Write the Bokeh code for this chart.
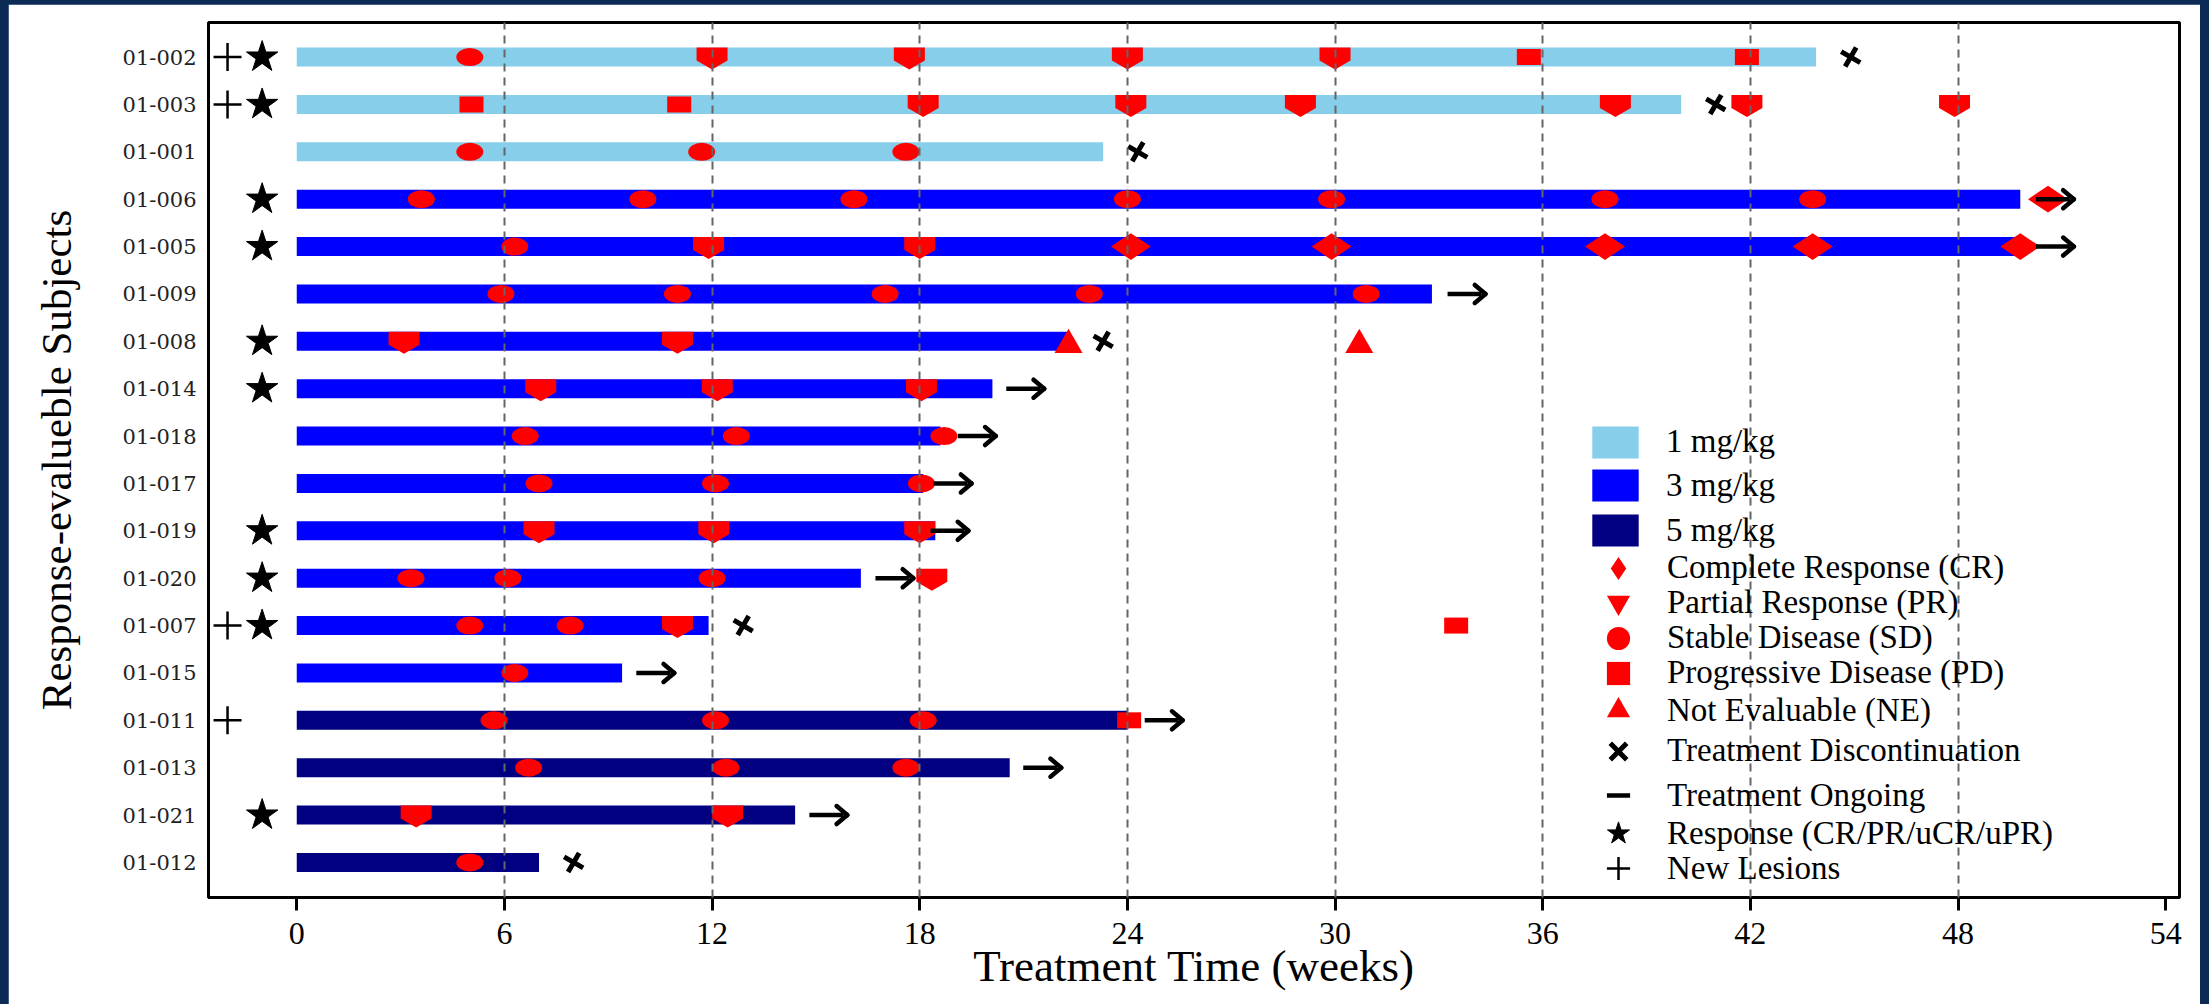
import numpy as np
from bokeh.plotting import figure
from bokeh.models import (ColumnDataSource, Range1d, FixedTicker, Legend, LegendItem,
                          GlobalInlineStyleSheet)
from bokeh.embed import file_html
from bokeh.resources import INLINE

# ---------------- data ----------------
subjects = ["01-002", "01-003", "01-001", "01-006", "01-005", "01-009", "01-008",
            "01-014", "01-018", "01-017", "01-019", "01-020", "01-007", "01-015",
            "01-011", "01-013", "01-021", "01-012"]
dose_mgkg = [1, 1, 1, 3, 3, 3, 3, 3, 3, 3, 3, 3, 3, 3, 5, 5, 5, 5]
treat_end_week = [43.9, 40.0, 23.3, 49.8, 49.8, 32.8, 22.3, 20.1, 18.6, 18.1,
                  18.45, 16.3, 11.9, 9.4, 24.0, 20.6, 14.4, 7.0]

response_subjects = ["01-002", "01-003", "01-006", "01-005", "01-008", "01-014",
                     "01-019", "01-020", "01-007", "01-021"]
new_lesion_subjects = ["01-002", "01-003", "01-007", "01-011"]

disc_subj = ["01-002", "01-003", "01-001", "01-008", "01-007", "01-012"]
disc_week = [44.9, 41.0, 24.3, 23.3, 12.9, 8.0]

ongoing_subj = ["01-006", "01-005", "01-009", "01-014", "01-018", "01-017",
                "01-019", "01-020", "01-015", "01-011", "01-013", "01-021"]
ongoing_week = [50.8, 50.8, 33.8, 21.05, 19.65, 18.95, 18.86, 17.27, 10.36,
                25.05, 21.54, 15.36]

cr_subj = ["01-006", "01-005", "01-005", "01-005", "01-005", "01-005"]
cr_week = [50.6, 24.1, 29.9, 37.8, 43.8, 49.8]

pr_subj = ["01-002", "01-002", "01-002", "01-002",
           "01-003", "01-003", "01-003", "01-003", "01-003", "01-003",
           "01-005", "01-005", "01-008", "01-008",
           "01-014", "01-014", "01-014", "01-019", "01-019", "01-019",
           "01-020", "01-007", "01-021", "01-021"]
pr_week = [12.0, 17.7, 24.0, 30.0,
           18.1, 24.1, 29.0, 38.1, 41.9, 47.9,
           11.9, 18.0, 3.1, 11.0,
           7.05, 12.15, 18.05, 7.0, 12.05, 18.0,
           18.35, 11.0, 3.45, 12.45]

sd_subj = ["01-002", "01-001", "01-001", "01-001",
           "01-006", "01-006", "01-006", "01-006", "01-006", "01-006", "01-006",
           "01-005", "01-009", "01-009", "01-009", "01-009", "01-009",
           "01-018", "01-018", "01-018", "01-017", "01-017", "01-017",
           "01-020", "01-020", "01-020", "01-007", "01-007", "01-015",
           "01-011", "01-011", "01-011", "01-013", "01-013", "01-013", "01-012"]
sd_week = [5.0, 5.0, 11.7, 17.6,
           3.6, 10.0, 16.1, 24.0, 29.9, 37.8, 43.8,
           6.3, 5.9, 11.0, 17.0, 22.9, 30.9,
           6.6, 12.7, 18.7, 7.0, 12.1, 18.05,
           3.3, 6.1, 12.0, 5.0, 7.9, 6.3,
           5.7, 12.1, 18.1, 6.7, 12.4, 17.6, 5.0]

pd_subj = ["01-002", "01-002", "01-003", "01-003", "01-007", "01-011"]
pd_week = [35.6, 41.9, 5.05, 11.05, 33.5, 24.05]

ne_subj = ["01-008", "01-008"]
ne_week = [22.3, 30.7]

x_ticks = [0, 6, 12, 18, 24, 30, 36, 42, 48, 54]
grid_weeks = [6, 12, 18, 24, 30, 36, 42, 48]
dose_levels = [1, 3, 5]
dose_labels = ["1 mg/kg", "3 mg/kg", "5 mg/kg"]
dose_colors = ["#87CEEB", "#0000FF", "#000080"]

# ---------------- layout constants ----------------
X0, X1 = -2.55, 54.4
Y0, Y1 = 0.26, 18.73
FW, FH = 1971, 875
KX = FW / (X1 - X0)   # px per week
KY = FH / (Y1 - Y0)   # px per row
STAR_X, PLUS_X = -1.0, -2.0
RED = "#FF0000"

n = len(subjects)
row_of = {s: n - i for i, s in enumerate(subjects)}


def rows(lst):
    return [row_of[s] for s in lst]


p = figure(width=2192, height=1000, frame_width=FW, frame_height=FH,
           x_range=Range1d(X0, X1), y_range=Range1d(Y0, Y1),
           output_backend="svg", toolbar_location=None,
           min_border_left=200, min_border_right=21, min_border_top=18,
           min_border_bottom=107, background_fill_color="white",
           border_fill_color="white")
p.stylesheets = [GlobalInlineStyleSheet(
    css="html, body { background-color: #0b2a55; overflow: hidden; } "
        "body { padding: 4px 0 0 8px !important; }")]

# bars
bar_r = {}
for d, col in zip(dose_levels, dose_colors):
    idx = [i for i in range(n) if dose_mgkg[i] == d]
    src = ColumnDataSource(dict(y=[row_of[subjects[i]] for i in idx],
                                right=[treat_end_week[i] for i in idx]))
    bar_r[d] = p.hbar(y="y", left=0, right="right", height=0.4, source=src,
                      fill_color=col, line_color=None)

# stable disease: ellipse + small circle inside it (used by the legend)
sd_src = ColumnDataSource(dict(x=sd_week, y=rows(sd_subj)))
p.ellipse(x="x", y="y", width=27, height=18, width_units="screen", height_units="screen",
          fill_color=RED, line_color=None, source=sd_src)
sd_leg = p.scatter(x="x", y="y", marker="circle", size=15, fill_color=RED,
                   line_color=None, source=sd_src)

# partial response: shield shape + small triangle inside it (used by the legend)
hw, top, sb, pt = 15.5 / KX, 9.5 / KY, 3.5 / KY, 12.5 / KY
pr_y = rows(pr_subj)
pr_src = ColumnDataSource(dict(
    xs=[[x - hw, x + hw, x + hw, x, x - hw] for x in pr_week],
    ys=[[y + top, y + top, y - sb, y - pt, y - sb] for y in pr_y]))
p.patches(xs="xs", ys="ys", fill_color=RED, line_color=None, source=pr_src)
pr_leg = p.scatter(x=pr_week, y=pr_y, marker="inverted_triangle", size=16,
                   fill_color=RED, line_color=None)

# complete response
cr_leg = p.scatter(x=cr_week, y=rows(cr_subj), marker="diamond", size=40, angle=np.pi / 2,
                   fill_color=RED, line_color=None)

# progressive disease
pd_src = ColumnDataSource(dict(x=pd_week, y=rows(pd_subj)))
p.rect(x="x", y="y", width=24, height=16, width_units="screen", height_units="screen",
       fill_color=RED, line_color=None, source=pd_src)
pd_leg = p.scatter(x="x", y="y", marker="square", size=14, fill_color=RED,
                   line_color=None, source=pd_src)

# not evaluable
ne_leg = p.scatter(x=ne_week, y=[r - 3.5 / KY for r in rows(ne_subj)], marker="triangle",
                   size=28, fill_color=RED, line_color=None)

# discontinuation
x_leg = p.scatter(x=disc_week, y=rows(disc_subj), marker="x", size=22, angle=0.26,
                  line_color="black", line_width=5)

# ongoing arrows: shaft + two-stroke open head
og_y = rows(ongoing_subj)
shaft_leg = p.scatter(x=[w - 2 / KX for w in ongoing_week], y=og_y, marker="dash", size=34,
                      line_color="black", line_width=4.5)
arm_dx, arm_dy = 13.6 / KX, 4.5 / KY
p.scatter(x=[w + arm_dx for w in ongoing_week], y=[r + arm_dy for r in og_y],
          marker="dash", size=14, angle=-0.7, line_color="black", line_width=4.5,
          line_cap="round")
p.scatter(x=[w + arm_dx for w in ongoing_week], y=[r - arm_dy for r in og_y],
          marker="dash", size=14, angle=0.7, line_color="black", line_width=4.5,
          line_cap="round")

# response star and new lesion plus
star_leg = p.scatter(x=STAR_X, y=rows(response_subjects), marker="star", size=33,
                     fill_color="black", line_color="black")
plus_leg = p.scatter(x=PLUS_X, y=rows(new_lesion_subjects), marker="cross", size=28,
                     line_color="black", line_width=2.5)

# axes
p.xaxis.ticker = FixedTicker(ticks=x_ticks)
p.xaxis.axis_label = "Treatment Time (weeks)"
p.xaxis.axis_label_text_font = "Liberation Serif"
p.xaxis.axis_label_text_font_size = "45px"
p.xaxis.axis_label_text_font_style = "normal"
p.xaxis.axis_label_text_color = "black"
p.xaxis.axis_label_standoff = -6
p.xaxis.major_label_text_font = "Liberation Serif"
p.xaxis.major_label_text_font_size = "32px"
p.xaxis.major_label_text_color = "black"
p.xaxis.major_label_standoff = 12
p.xaxis.major_tick_out = 13
p.xaxis.major_tick_in = 0
p.xaxis.major_tick_line_width = 3
p.xaxis.minor_tick_line_color = None
p.xaxis.axis_line_width = 3

p.yaxis.ticker = FixedTicker(ticks=[row_of[s] for s in subjects])
p.yaxis.major_label_overrides = {row_of[s]: s for s in subjects}
p.yaxis.axis_label = "Response-evalueble Subjects"
p.yaxis.axis_label_text_font = "Liberation Serif"
p.yaxis.axis_label_text_font_size = "43px"
p.yaxis.axis_label_text_font_style = "normal"
p.yaxis.axis_label_text_color = "black"
p.yaxis.axis_label_standoff = 40
p.yaxis.major_label_text_font = "DejaVu Serif"
p.yaxis.major_label_text_font_size = "21px"
p.yaxis.major_label_text_color = "#222222"
p.yaxis.major_label_standoff = 12
p.yaxis.major_tick_line_color = None
p.yaxis.major_tick_out = 0
p.yaxis.minor_tick_line_color = None
p.yaxis.axis_line_width = 3

p.outline_line_color = "black"
p.outline_line_width = 3

p.ygrid.visible = False
p.xgrid.ticker = FixedTicker(ticks=grid_weeks)
p.xgrid.grid_line_color = "#666666"
p.xgrid.grid_line_width = 2
p.xgrid.grid_line_dash = "8 6"
p.xgrid.level = "overlay"

# legends: one per entry so that each sits where the reference puts it
FRAME_BOTTOM_PAGE_Y = 897
common = dict(padding=0, margin=0, border_line_color=None, background_fill_alpha=0,
              label_text_font="Liberation Serif", label_text_font_size="33px",
              label_text_color="black")

dose_entry_centers = [441.7, 485, 530]
for d, lab, cy in zip(dose_levels, dose_labels, dose_entry_centers):
    gh = 40
    p.add_layout(Legend(items=[LegendItem(label=lab, renderers=[bar_r[d]])],
                        location=(1378, FRAME_BOTTOM_PAGE_Y - cy - gh / 2),
                        glyph_width=58, glyph_height=gh, label_standoff=22, **common))

marker_entries = [
    ("Complete Response (CR)", [cr_leg], 567.7),
    ("Partial Response (PR)", [pr_leg], 602),
    ("Stable Disease (SD)", [sd_leg], 637.7),
    ("Progressive Disease (PD)", [pd_leg], 672.7),
    ("Not Evaluable (NE)", [ne_leg], 710),
    ("Treatment Discontinuation", [x_leg], 750.7),
    ("Treatment Ongoing", [shaft_leg], 795),
    ("Response (CR/PR/uCR/uPR)", [star_leg], 833),
    ("New Lesions", [plus_leg], 868),
]
for lab, rs, cy in marker_entries:
    gh = 58
    p.add_layout(Legend(items=[LegendItem(label=lab, renderers=rs)],
                        location=(1379, FRAME_BOTTOM_PAGE_Y - cy - gh / 2),
                        glyph_width=62, glyph_height=gh, label_standoff=18, **common))

open("out.html", "w").write(file_html(p, INLINE))
